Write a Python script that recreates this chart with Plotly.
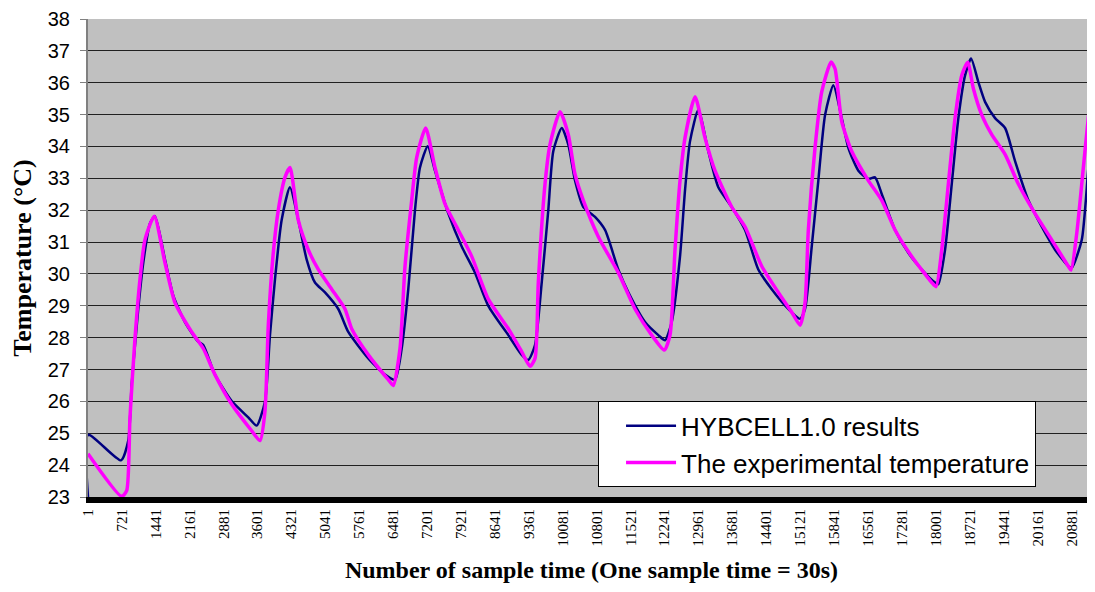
import plotly.graph_objects as go

# Sample index (x) and temperature (degC)
model_samples = [1, 5, 701, 856, 928, 1068, 1174, 1316, 1422, 1635, 1811, 2059, 2342, 2448,
                 2696, 3051, 3403, 3581, 3758, 3864, 3970, 4112, 4288, 4465, 4643, 4819,
                 5032, 5314, 5526, 5951, 6305, 6518, 6660, 6800, 6942, 7048, 7212, 7367,
                 7649, 7934, 8216, 8498, 8923, 9207, 9347, 9490, 9632, 9772, 9878, 10057,
                 10197, 10339, 10515, 10764, 10976, 11258, 11471, 11825, 12107, 12250,
                 12392, 12568, 12674, 12780, 12957, 13169, 13381, 13666, 13948, 14230,
                 14515, 14867, 15116, 15222, 15364, 15504, 15647, 15823, 16001, 16141,
                 16354, 16566, 16708, 16850, 17133, 17415, 17700, 17982, 18052, 18194,
                 18336, 18477, 18619, 18746, 18901, 19043, 19256, 19468, 19680, 19963,
                 20247, 20529, 20812, 20884, 21096, 21237, 21379, 21450]
model_temps = [23.0, 24.95, 24.15, 24.77, 26.53, 28.9, 30.35, 31.58, 31.81, 30.45, 29.32,
               28.49, 27.87, 27.77, 26.84, 26.01, 25.5, 25.24, 26.0, 28.08, 29.83, 31.69,
               32.72, 31.69, 30.45, 29.73, 29.42, 28.9, 28.18, 27.35, 26.84, 26.68, 27.66,
               29.52, 32.0, 33.34, 34.01, 33.24, 31.9, 30.86, 30.04, 29.0, 28.08, 27.46,
               27.3, 27.77, 29.73, 32.0, 33.85, 34.58, 34.06, 32.93, 32.1, 31.79, 31.38,
               30.14, 29.42, 28.49, 28.08, 27.92, 28.49, 30.55, 32.62, 34.16, 35.15, 33.85,
               32.72, 32.1, 31.38, 30.14, 29.52, 28.9, 28.59, 28.9, 30.86, 32.93, 34.99,
               35.92, 34.89, 33.96, 33.24, 32.98, 33.03, 32.51, 31.38, 30.66, 30.14, 29.73,
               29.68, 30.76, 32.82, 34.89, 36.23, 36.76, 36.02, 35.4, 34.89, 34.58, 33.54,
               32.31, 31.48, 30.76, 30.24, 30.19, 31.07, 33.34, 35.4, 36.6]

exp_samples = [1, 715, 822, 892, 998, 1104, 1210, 1408, 1635, 1847, 2202, 2448, 2696, 3051,
               3475, 3652, 3758, 3828, 3934, 4040, 4182, 4288, 4465, 4677, 4889, 5174, 5456,
               5598, 5951, 6376, 6482, 6624, 6730, 6872, 6978, 7169, 7367, 7579, 7861, 8146,
               8498, 8923, 9207, 9384, 9490, 9560, 9702, 9808, 10021, 10197, 10339, 10515,
               10834, 11258, 11613, 11967, 12235, 12356, 12462, 12568, 12674, 12887, 13099,
               13311, 13666, 13948, 14303, 14655, 14940, 15116, 15222, 15292, 15434, 15576,
               15774, 15859, 16001, 16213, 16566, 16850, 17133, 17487, 17912, 18003, 18124,
               18264, 18406, 18548, 18676, 18795, 18973, 19186, 19468, 19750, 20105, 20459,
               20812, 20869, 20990, 21130, 21272, 21379, 21450]
exp_temps = [24.36, 23.02, 23.2, 25.5, 27.97, 29.83, 31.07, 31.81, 30.35, 29.1, 28.18, 27.66,
             26.84, 25.91, 25.08, 24.77, 25.7, 28.39, 30.66, 32.0, 33.03, 33.34, 31.69, 30.76,
             30.14, 29.52, 28.9, 28.28, 27.46, 26.68, 26.5, 27.66, 30.24, 32.31, 33.65, 34.58,
             33.34, 32.2, 31.38, 30.55, 29.21, 28.28, 27.56, 27.1, 27.35, 29.73, 32.82, 34.06,
             35.09, 34.37, 33.13, 32.31, 31.17, 30.04, 28.9, 28.08, 27.61, 28.08, 30.76, 32.93,
             34.27, 35.56, 34.27, 33.24, 32.1, 31.48, 30.24, 29.42, 28.8, 28.39, 29.1, 31.38,
             33.96, 35.71, 36.65, 36.44, 34.78, 33.85, 32.93, 32.31, 31.38, 30.55, 29.73, 29.6,
             30.76, 32.82, 34.89, 36.23, 36.64, 35.82, 34.99, 34.37, 33.75, 32.82, 31.89,
             31.07, 30.24, 30.12, 31.28, 33.34, 35.4, 36.44, 37.0]

x_tick_vals = list(range(1, 21000, 720))
x_tick_text = [str(v) for v in x_tick_vals]
y_tick_vals = list(range(23, 39))

fig = go.Figure()
fig.add_trace(go.Scatter(x=model_samples, y=model_temps, mode="lines",
                         name="HYBCELL1.0 results",
                         line=dict(color="#000080", width=2.5, shape="spline", smoothing=0.6)))
fig.add_trace(go.Scatter(x=exp_samples, y=exp_temps, mode="lines",
                         name="The experimental temperature",
                         line=dict(color="#FF00FF", width=3.5, shape="spline", smoothing=0.6)))

# The page body has an 8px default margin, so the figure is sized to fit inside it
fig.update_layout(
    width=1087, height=576,
    margin=dict(l=80, r=0, t=11, b=87),
    paper_bgcolor="white",
    plot_bgcolor="#C0C0C0",
    showlegend=True,
    legend=dict(x=0.5065, y=0.2, xanchor="left", yanchor="top",
                bgcolor="white", bordercolor="black", borderwidth=1,
                font=dict(family="Liberation Sans, Arial", size=26, color="black"),
                tracegroupgap=0, itemwidth=50, indentation=22),
    xaxis=dict(range=[1, 21377], tickmode="array", tickvals=x_tick_vals,
               ticktext=x_tick_text, tickangle=-90, automargin=False,
               tickfont=dict(family="Liberation Serif, Times New Roman", size=15, color="black"),
               showgrid=False, zeroline=False, showline=True, linecolor="black",
               linewidth=6, ticks="",
               title=dict(text="<b>Number of sample time (One sample time = 30s)</b>",
                          font=dict(family="Liberation Serif, Times New Roman", size=24,
                                    color="black"),
                          standoff=18)),
    yaxis=dict(range=[23, 38], tickmode="array", tickvals=y_tick_vals, automargin=False,
               tickfont=dict(family="Liberation Sans, Arial", size=20, color="black"),
               ticklabelstandoff=6, ticklabeloverflow="allow",
               showgrid=True, gridcolor="#202020", gridwidth=1, zeroline=False,
               showline=True, linecolor="#808080", linewidth=2,
               ticks="outside", ticklen=6, tickcolor="#808080",
               title=dict(text="<b>Temperature (°C)</b>",
                          font=dict(family="Liberation Serif, Times New Roman", size=26,
                                    color="black"),
                          standoff=9)),
)

fig.write_html("out.html")
